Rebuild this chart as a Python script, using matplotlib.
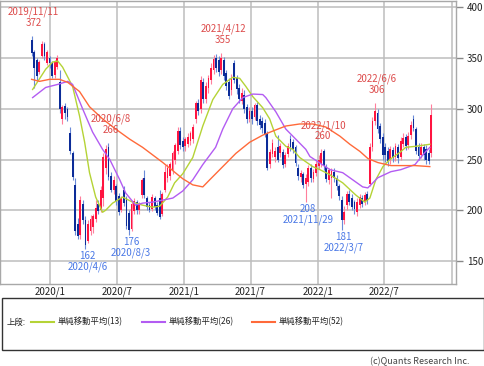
import matplotlib
matplotlib.use('Agg')
import matplotlib.pyplot as plt
import matplotlib.dates as mdates
from matplotlib.patches import Rectangle
from matplotlib.lines import Line2D
import numpy as np
import pandas as pd

plt.rcParams['font.family'] = ['Noto Sans CJK JP', 'DejaVu Sans']

# 週足 (2019/11/11 から)
start = '2019-11-11'
opens = [368, 356, 348, 336, 352, 364, 345, 350, 345, 333, 341, 326, 290, 303, 300, 276, 256, 225, 186, 176,
         206, 190, 170, 180, 183, 191, 206, 200, 212, 242, 262, 234, 220, 224, 214, 200, 220, 212, 197, 182,
         199, 208, 200, 215, 232, 212, 205, 201, 212, 205, 212, 196, 220, 232, 234, 240, 250, 258, 278, 268,
         263, 265, 268, 270, 290, 306, 300, 326, 310, 320, 328, 338, 350, 348, 338, 348, 335, 326, 318, 345,
         330, 320, 308, 314, 302, 290, 298, 292, 304, 290, 288, 286, 276, 246, 255, 252, 262, 256, 257, 246,
         255, 270, 267, 262, 242, 233, 236, 226, 228, 242, 231, 237, 244, 246, 258, 243, 230, 232, 238, 232,
         224, 210, 190, 205, 216, 212, 208, 198, 205, 212, 208, 216, 226, 262, 288, 296, 283, 272, 262, 258,
         250, 259, 252, 262, 252, 265, 272, 264, 274, 290, 280, 262, 254, 262, 260, 256, 256]
highs = [372, 358, 350, 348, 367, 366, 358, 352, 347, 348, 353, 338, 304, 306, 302, 282, 258, 232, 192, 214,
         210, 194, 190, 195, 196, 210, 210, 224, 256, 264, 266, 238, 234, 226, 217, 214, 224, 214, 200, 208,
         212, 210, 208, 232, 240, 214, 208, 216, 214, 208, 220, 218, 245, 246, 248, 258, 266, 282, 282, 272,
         272, 276, 278, 285, 308, 310, 332, 330, 326, 333, 345, 353, 354, 352, 355, 351, 338, 330, 334, 348,
         333, 324, 320, 318, 305, 302, 302, 306, 307, 294, 292, 290, 278, 260, 270, 262, 274, 266, 260, 257,
         266, 274, 270, 264, 246, 240, 238, 236, 245, 246, 241, 249, 254, 260, 260, 246, 242, 242, 242, 235,
         226, 214, 204, 219, 220, 216, 210, 212, 216, 215, 218, 219, 266, 292, 306, 300, 286, 276, 266, 262,
         263, 262, 266, 265, 272, 276, 275, 277, 288, 294, 282, 266, 266, 265, 264, 260, 305]
lows = [352, 320, 328, 334, 350, 348, 343, 340, 330, 330, 339, 296, 285, 290, 288, 255, 230, 176, 172, 172,
        186, 162, 168, 176, 178, 188, 196, 198, 204, 236, 230, 218, 216, 205, 195, 198, 204, 182, 176, 180,
        196, 196, 196, 212, 212, 200, 198, 199, 200, 195, 191, 194, 218, 228, 230, 236, 246, 255, 260, 258,
        258, 262, 264, 266, 286, 294, 296, 306, 306, 316, 324, 334, 336, 332, 334, 328, 318, 310, 314, 325,
        315, 306, 305, 296, 286, 287, 285, 289, 284, 280, 276, 272, 240, 242, 252, 248, 248, 252, 242, 243,
        252, 258, 256, 244, 230, 228, 222, 208, 224, 228, 228, 234, 241, 243, 240, 228, 226, 212, 228, 220,
        210, 181, 186, 200, 205, 200, 196, 194, 202, 203, 205, 206, 224, 258, 284, 276, 266, 250, 248, 244,
        246, 248, 249, 247, 250, 262, 259, 260, 270, 278, 255, 250, 251, 250, 246, 246, 252]
closes = [355, 340, 332, 346, 364, 352, 356, 345, 332, 346, 350, 300, 302, 296, 292, 258, 233, 180, 175, 210,
          190, 166, 186, 191, 194, 202, 199, 220, 252, 260, 233, 220, 230, 209, 198, 212, 207, 184, 181, 206,
          209, 200, 205, 230, 215, 203, 200, 213, 203, 197, 193, 216, 238, 242, 246, 256, 264, 278, 264, 262,
          270, 272, 276, 282, 306, 298, 328, 310, 322, 330, 340, 349, 340, 336, 350, 332, 322, 313, 330, 328,
          319, 310, 316, 300, 290, 298, 290, 304, 288, 284, 281, 275, 242, 257, 266, 258, 250, 263, 245, 254,
          263, 262, 260, 247, 234, 237, 225, 232, 242, 232, 238, 246, 250, 256, 244, 231, 240, 239, 232, 224,
          214, 190, 198, 216, 208, 203, 201, 208, 213, 206, 215, 209, 262, 288, 298, 280, 270, 254, 254, 249,
          260, 251, 263, 251, 268, 271, 263, 273, 284, 281, 258, 253, 262, 254, 250, 249, 294]

# 移動平均 (週番号, 値)
ma13_wk = [0.4, 5.5, 8.2, 10.2, 12.1, 16, 18.7, 20.7, 22.6, 25, 27.7, 28.9, 31.6, 35.5, 39.4, 43.3, 47.2, 50,
           53.1, 55.8, 59, 62.9, 66.8, 70.7, 74.6, 78.5, 81.2, 83.6, 86.3, 90.2, 92.9, 95.3, 99.2, 101.9,
           104.6, 109.7, 112.5, 116.4, 121.4, 126.5, 130, 132, 134.3, 137.1, 139.8, 143.7, 146, 149.9, 155.4]
ma13_val = [319, 339, 346, 347, 341, 322, 293, 267, 237, 213, 198, 200, 207, 213, 208, 205, 203, 204,
            213, 227, 236, 252, 283, 309, 324, 331, 330, 322, 312, 301, 290, 273, 263, 260,
            252, 243, 240, 235, 227, 215, 208, 212, 230, 243, 250, 257, 262, 263, 265]
ma26_wk = [0.4, 5.5, 10.2, 14.1, 16, 19.9, 23.8, 27.7, 30.5, 34.4, 36.7, 40.6, 43.3, 47.2, 51.2, 55.1, 59,
           62.9, 66.8, 71.8, 74.6, 78.5, 82.4, 86.3, 90.2, 91.4, 95.3, 99.2, 103.1, 107, 108.6, 116.4, 121.4,
           125.3, 129.2, 131.2, 135.1, 140.2, 144.1, 149.6, 153.5, 155.4]
ma26_val = [311, 321, 324, 327, 324, 300, 277, 260, 250, 230, 217, 205, 207, 208, 210, 212, 219,
            230, 245, 262, 280, 300, 311, 314.5, 314, 311, 297, 280, 270, 260, 253, 240, 237,
            230, 223, 222, 232, 238, 240, 245, 257, 262]
ma52_wk = [0, 3.1, 7, 10.9, 14.1, 18.7, 22.6, 27.7, 32.8, 38.3, 43.3, 51.2, 59, 62.9, 66.8, 69.5, 74.6,
           79.7, 85.1, 90.2, 94.1, 99.2, 104.6, 109.7, 114.8, 120.3, 124.2, 128.1, 131.2, 135.1, 140.2,
           149.6, 155.4]
ma52_val = [329, 327, 329, 329, 326, 317, 302, 290, 280, 270, 262, 247, 231, 225, 223, 230, 243,
            256, 267, 274, 278, 283, 285, 285, 282, 273, 265, 258, 251, 247, 244, 244, 243]

hi_dates = ['2019-11-11', '2020-06-08', '2021-04-12', '2022-01-10', '2022-06-06']
hi_labels = ['2019/11/11', '2020/6/8', '2021/4/12', '2022/1/10', '2022/6/6']
hi_vals = [372, 266, 355, 260, 306]
lo_dates = ['2020-04-06', '2020-08-03', '2021-11-29', '2022-03-07']
lo_labels = ['2020/4/6', '2020/8/3', '2021/11/29', '2022/3/7']
lo_vals = [162, 176, 208, 181]

tick_dates = ['2020-01-01', '2020-07-01', '2021-01-01', '2021-07-01', '2022-01-01', '2022-07-01', '2023-01-01']
tick_labels = ['2020/1', '2020/7', '2021/1', '2021/7', '2022/1', '2022/7', '']

legend_labels = ['単純移動平均(13)', '単純移動平均(26)', '単純移動平均(52)']
c13, c26, c52 = '#b5d336', '#b35cf2', '#ff6a3a'

fig = plt.figure(figsize=(4.85, 3.66), dpi=100)
ax = fig.add_axes([0.001, 0.224, 0.939, 0.7733])

o = np.array(opens, float)
h = np.array(highs, float)
l = np.array(lows, float)
c = np.array(closes, float)
dates = pd.date_range(start, periods=len(c), freq='7D')
x = mdates.date2num(dates)
up = c >= o
bot = np.minimum(o, c)
hgt = np.maximum(np.abs(c - o), 0.8)

ax.vlines(x[up], l[up], h[up], color='#ff7f9c', lw=0.8, zorder=2)
ax.vlines(x[~up], l[~up], h[~up], color='#6a8ad8', lw=0.8, zorder=2)
ax.bar(x[up], hgt[up], bottom=bot[up], width=5.0, color='#ff1440', lw=0, zorder=2)
ax.bar(x[~up], hgt[~up], bottom=bot[~up], width=5.0, color='#0c2c98', lw=0, zorder=2)

t0 = pd.Timestamp(start)
for wk, val, col in [(ma13_wk, ma13_val, c13), (ma26_wk, ma26_val, c26), (ma52_wk, ma52_val, c52)]:
    xd = [t0 + pd.Timedelta(days=7 * w) for w in wk]
    ax.plot(xd, val, color=col, lw=1.0, zorder=3)

for d, lab, v in zip(hi_dates, hi_labels, hi_vals):
    ax.annotate(f'{lab}\n{v}', xy=(pd.Timestamp(d), v), xytext=(2, 8), textcoords='offset pixels',
                ha='center', va='bottom', fontsize=7, color='#dd4b4b', linespacing=1.1, zorder=4)
for d, lab, v in zip(lo_dates, lo_labels, lo_vals):
    ax.annotate(f'{v}\n{lab}', xy=(pd.Timestamp(d), v), xytext=(2, -2), textcoords='offset pixels',
                ha='center', va='top', fontsize=7, color='#4a78e6', linespacing=1.1, zorder=4)

ax.set_xlim(pd.Timestamp('2019-08-18'), pd.Timestamp('2023-01-13'))
ax.set_ylim(127.3, 406.2)
ax.set_xticks([pd.Timestamp(t) for t in tick_dates])
ax.set_xticklabels(tick_labels)
ax.set_yticks([150, 200, 250, 300, 350, 400])
ax.yaxis.tick_right()
ax.tick_params(axis='y', length=5, width=1, color='#888888', pad=3, labelsize=7, labelcolor='#222222')
ax.tick_params(axis='x', length=0, pad=2, labelsize=7, labelcolor='#222222')
ax.grid(True, color='#bdbdbd', lw=1.1, zorder=0)
ax.set_axisbelow(True)
for s in ax.spines.values():
    s.set_color('#a8a8a8')
    s.set_linewidth(1.0)

# 凡例枠
fig.patches.append(Rectangle((2 / 485, 16 / 366), 482 / 485, 52 / 366, transform=fig.transFigure,
                             fill=False, edgecolor='#333333', lw=1.0))
yc = 44 / 366
fig.text(7 / 485, yc, '上段:', va='center', fontsize=6, color='#222222')
for x0, col, lab in zip([31, 142, 252], [c13, c26, c52], legend_labels):
    fig.lines.append(Line2D([x0 / 485, (x0 + 23) / 485], [yc, yc], transform=fig.transFigure,
                            color=col, lw=1.5))
    fig.text((x0 + 27) / 485, yc, lab, va='center', fontsize=6, color='#222222')

fig.text(470 / 485, 4 / 366, '(c)Quants Research Inc.', ha='right', va='center', fontsize=6.5, color='#444444')

fig.savefig('out.png', dpi=100)
